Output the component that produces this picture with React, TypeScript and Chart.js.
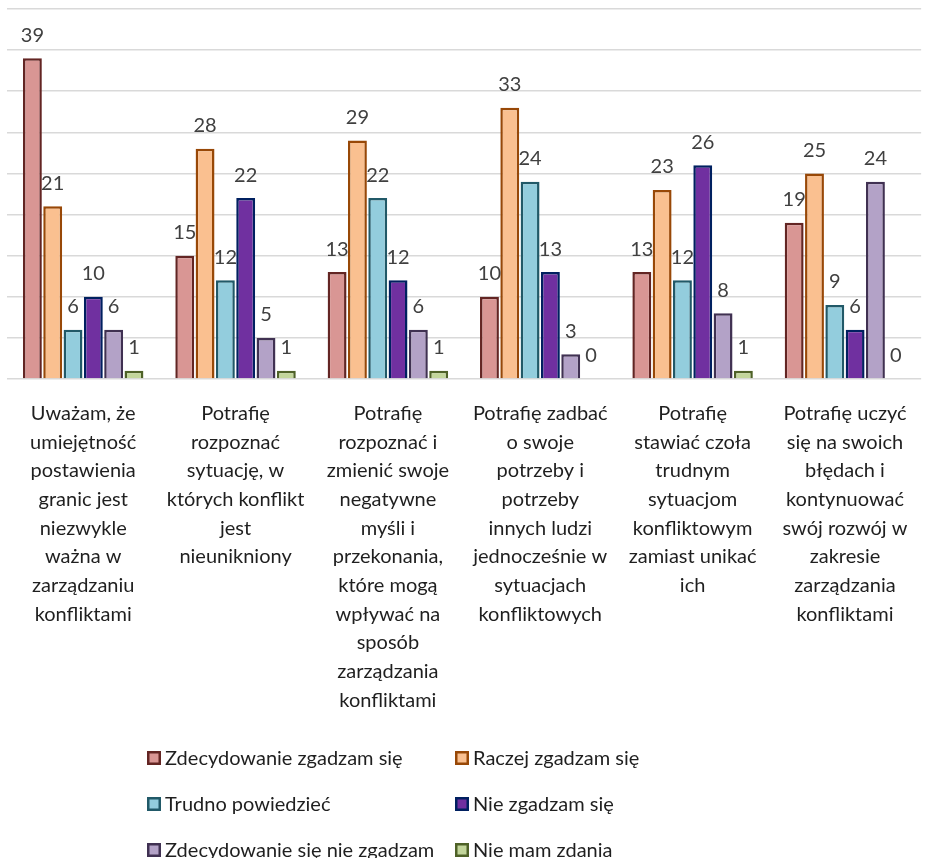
import { useEffect, useRef } from "react";
import { Chart, registerables } from "chart.js";

Chart.register(...registerables);

// Statements (wrapped into lines for the category axis)
const categories: string[][] = [
  ["Uważam, że", "umiejętność", "postawienia", "granic jest", "niezwykle", "ważna w", "zarządzaniu", "konfliktami"],
  ["Potrafię", "rozpoznać", "sytuację, w", "których konflikt", "jest", "nieunikniony"],
  ["Potrafię", "rozpoznać i", "zmienić swoje", "negatywne", "myśli i", "przekonania,", "które mogą", "wpływać na", "sposób", "zarządzania", "konfliktami"],
  ["Potrafię zadbać", "o swoje", "potrzeby i", "potrzeby", "innych ludzi", "jednocześnie w", "sytuacjach", "konfliktowych"],
  ["Potrafię", "stawiać czoła", "trudnym", "sytuacjom", "konfliktowym", "zamiast unikać", "ich"],
  ["Potrafię uczyć", "się na swoich", "błędach i", "kontynuować", "swój rozwój w", "zakresie", "zarządzania", "konfliktami"],
];

const seriesNames = [
  "Zdecydowanie zgadzam się",
  "Raczej zgadzam się",
  "Trudno powiedzieć",
  "Nie zgadzam się",
  "Zdecydowanie się nie zgadzam",
  "Nie mam zdania",
];

const strongAgree = [39, 15, 13, 10, 13, 19];
const ratherAgree = [21, 28, 29, 33, 23, 25];
const hardToSay = [6, 12, 22, 24, 12, 9];
const disagree = [10, 22, 12, 13, 26, 6];
const strongDisagree = [6, 5, 6, 3, 8, 24];
const noOpinion = [1, 1, 1, 0, 1, 0];

const seriesValues = [strongAgree, ratherAgree, hardToSay, disagree, strongDisagree, noOpinion];

const fills = ["#D99694", "#FAC090", "#93CDDD", "#7030A0", "#B3A2C7", "#C3D69B"];
const borders = ["#632523", "#984807", "#215968", "#002060", "#403152", "#4F6228"];

const FONT = "Lato, 'Open Sans', sans-serif";
const FONT_SIZE = 20;

// Numbers printed above every bar
const valueLabels = {
  id: "valueLabels",
  afterDatasetsDraw(chart: any) {
    const ctx = chart.ctx;
    ctx.save();
    ctx.font = `${FONT_SIZE}px ${FONT}`;
    ctx.fillStyle = "#404040";
    ctx.textAlign = "center";
    ctx.textBaseline = "middle";
    chart.data.datasets.forEach((ds: any, di: number) => {
      const meta = chart.getDatasetMeta(di);
      meta.data.forEach((el: any, i: number) => {
        ctx.fillText(String(ds.data[i]), el.x, el.y - 23);
      });
    });
    ctx.restore();
  },
};

// Two-column legend under the category labels
const gridLegend = {
  id: "gridLegend",
  afterDraw(chart: any) {
    const ctx = chart.ctx;
    ctx.save();
    ctx.font = `${FONT_SIZE}px ${FONT}`;
    ctx.textBaseline = "middle";
    ctx.textAlign = "left";
    const colX = [147, 455];
    const rowY = [758, 804, 850];
    chart.data.datasets.forEach((ds: any, i: number) => {
      const x = colX[i % 2];
      const y = rowY[Math.floor(i / 2)];
      const s = 14;
      ctx.fillStyle = ds.backgroundColor;
      ctx.fillRect(x, y - s / 2, s, s);
      ctx.strokeStyle = ds.borderColor;
      ctx.lineWidth = 2.5;
      ctx.strokeRect(x + 1.25, y - s / 2 + 1.25, s - 2.5, s - 2.5);
      ctx.fillStyle = "#1f1f1f";
      ctx.fillText(ds.label, x + 18, y + 1);
    });
    ctx.restore();
  },
};

export default function App() {
  const canvasRef = useRef<HTMLCanvasElement | null>(null);

  useEffect(() => {
    if (!canvasRef.current) return;
    const chart = new Chart(canvasRef.current, {
      type: "bar",
      data: {
        labels: categories,
        datasets: seriesValues.map((values, i) => ({
          label: seriesNames[i],
          data: values,
          backgroundColor: fills[i],
          borderColor: borders[i],
          borderWidth: 2.5,
          categoryPercentage: 0.8,
          barPercentage: 0.93,
        })),
      },
      options: {
        animation: false,
        responsive: false,
        layout: { padding: { top: 9, left: 7, right: 6, bottom: 149 } },
        plugins: {
          legend: { display: false },
          tooltip: { enabled: false },
        },
        scales: {
          x: {
            grid: { display: false, drawTicks: false },
            border: { display: false },
            ticks: {
              autoSkip: false,
              maxRotation: 0,
              minRotation: 0,
              padding: 20,
              color: "#1f1f1f",
              font: { family: FONT, size: FONT_SIZE, lineHeight: "28.7px" },
            },
            afterFit(scale: any) {
              scale.height = 330;
            },
          },
          y: {
            min: 0,
            max: 45,
            ticks: { display: false, stepSize: 5 },
            grid: { color: "#D9D9D9", lineWidth: 1.5, drawTicks: false },
            border: { display: false },
            afterFit(scale: any) {
              scale.width = 0;
            },
          },
        },
      },
      plugins: [valueLabels, gridLegend],
    });
    return () => chart.destroy();
  }, []);

  return (
    <div style={{ position: "absolute", left: 0, top: 0, width: 928, height: 858, background: "#fff" }}>
      <canvas ref={canvasRef} width={928} height={858} style={{ display: "block" }} />
    </div>
  );
}
